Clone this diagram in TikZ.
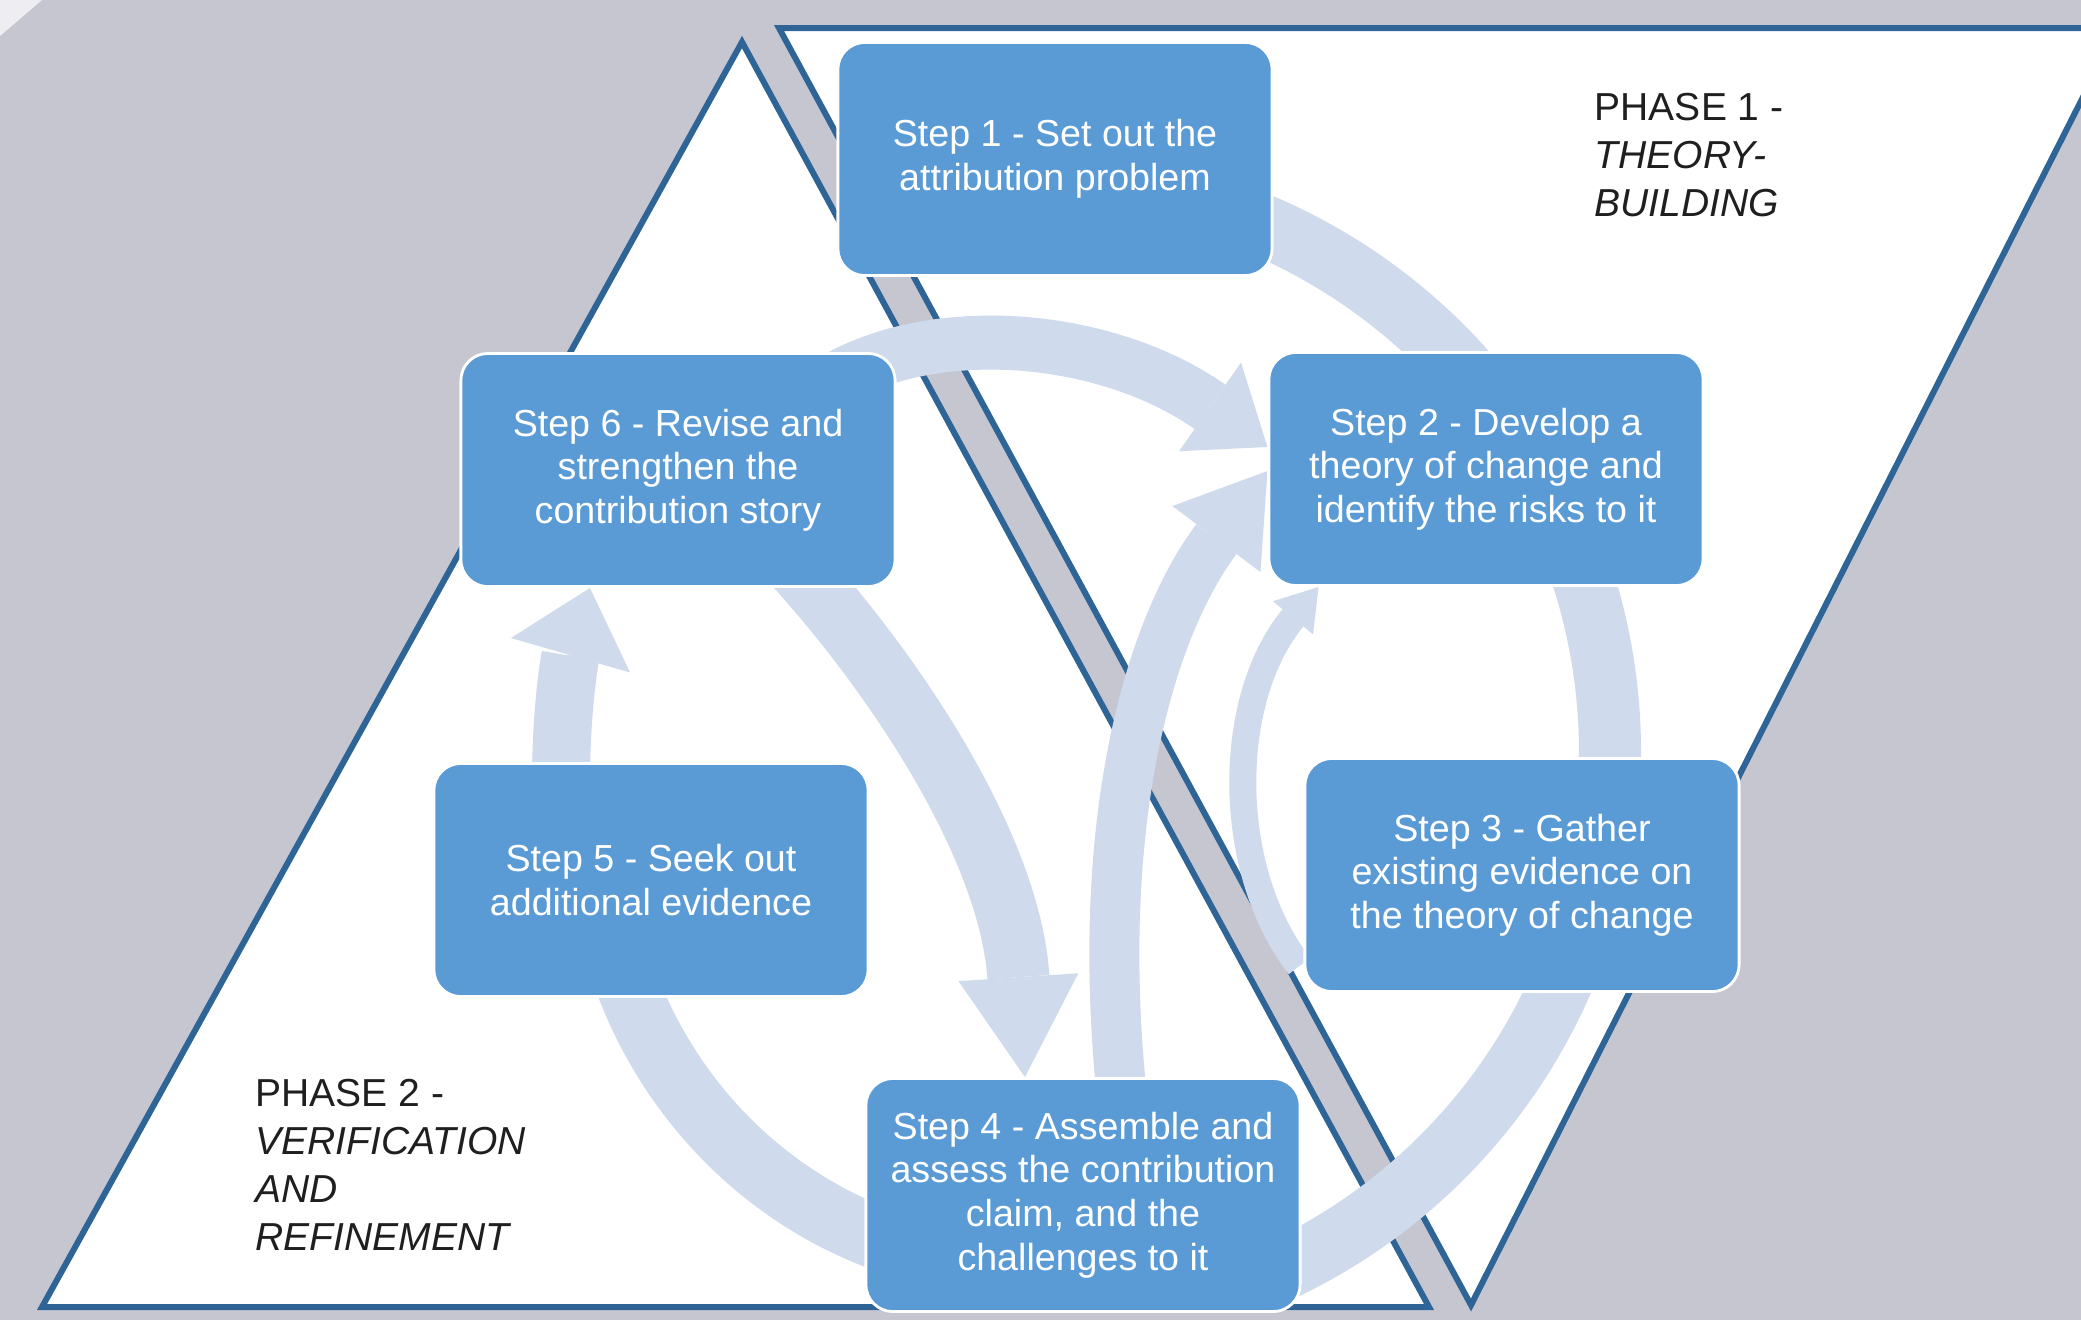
\documentclass[tikz,border=0pt]{standalone}
\usepackage{fontspec}
\setmainfont{Liberation Sans}
\usetikzlibrary{arrows.meta,backgrounds}
\definecolor{bggray}{HTML}{C6C6D0}
\definecolor{phaseblue}{HTML}{2E6496}
\definecolor{stepblue}{HTML}{5B9BD5}
\definecolor{bandblue}{HTML}{CFDBEC}
\definecolor{cornerwhite}{HTML}{EEEEF2}

\begin{document}
\begin{tikzpicture}[
  x=0.01cm, y=-0.01cm,
  stepbox/.style={draw=white, line width=0.8pt, fill=stepblue, rounded corners=0.27cm, minimum width=4.34cm, minimum height=2.33cm, align=center, text=white, font=\fontsize{10.7}{12.4}\selectfont},
  band/.style={draw=bandblue, line width=0.6cm},
  phase/.style={draw=phaseblue, fill=white, line width=0.06cm},
  phaselbl/.style={anchor=north west, inner sep=0pt, align=left, text=black!88, font=\fontsize{11.1}{13.6}\selectfont},
]
  \useasboundingbox (0,0) rectangle (2081,1320);

  % Steps
  \node[stepbox] (s1) at (1055,159) {Step 1 - Set out the\\attribution problem};
  \node[stepbox] (s2) at (1486,469) {Step 2 - Develop a\\theory of change and\\identify the risks to it};
  \node[stepbox] (s3) at (1522,875) {Step 3 - Gather\\existing evidence on\\the theory of change};
  \node[stepbox] (s4) at (1083,1195) {Step 4 - Assemble and\\assess the contribution\\claim, and the\\challenges to it};
  \node[stepbox] (s5) at (651,880) {Step 5 - Seek out\\additional evidence};
  \node[stepbox] (s6) at (678,470) {Step 6 - Revise and\\strengthen the\\contribution story};

  % Phase labels
  \node[phaselbl] (ph1) at (1594,93) {PHASE 1 -\\\textit{THEORY-}\\\textit{BUILDING}};
  \node[phaselbl] (ph2) at (255,1079) {PHASE 2 -\\\textit{VERIFICATION}\\\textit{AND}\\\textit{REFINEMENT}};

  \begin{scope}[on background layer]
    \clip (0,0) rectangle (2081,1320);
    \fill[bggray] (0,0) rectangle (2081,1320);
    \fill[cornerwhite] (0,0) -- (42,0) -- (0,36) -- cycle;

    % Phase areas
    \draw[phase] (779,28) -- (2118,28) -- (1471,1305) -- cycle;
    \draw[phase] (742,42) -- (1429,1307) -- (42,1307) -- cycle;

    % Right cycle: 1 -> 2 -> 3 -> 4
    \coordinate (ring) at (1037,752);
    \draw[band, line width=0.62cm] (ring) ++(-75:573) arc[start angle=-75, end angle=-38, radius=573];
    \draw[band, line width=0.62cm] (ring) ++(-22:573) arc[start angle=-22, end angle=6, radius=573];
    \draw[band, line width=0.62cm] (ring) ++(20:573) arc[start angle=20, end angle=68, radius=573];

    % Back to step 2
    \draw[band, line width=0.54cm, -{Triangle[width=1.08cm, length=0.7cm, line width=0pt]}]
      ([shift={(-0.75cm,-0.36cm)}]s6.north east) .. controls (920,320) and (1100,330) .. ([yshift=0.22cm]s2.west);
    \draw[band, line width=0.5cm, -{Triangle[width=1.1cm, length=0.85cm, line width=0pt]}]
      ([shift={(0.38cm,-0.11cm)}]s4.north) .. controls (1095,820) and (1149,629) .. ([yshift=-0.02cm]s2.west);
    \draw[band, line width=0.27cm, -{Triangle[width=0.52cm, length=0.4cm, line width=0pt]}]
      ([shift={(-0.04cm,0.27cm)}]s3.south west) .. controls (1225,870) and (1225,700) .. ([xshift=0.51cm]s2.south west);

    % Left cycle: 4 -> 5 -> 6 -> 4
    \draw[band, line width=0.63cm]
      ([shift={(0.33cm,-0.5cm)}]s4.west) .. controls (760,1200) and (660,1090) .. ([shift={(-0.32cm,0.37cm)}]s5.south);
    \draw[band, line width=0.58cm, -{Triangle[width=1.24cm, length=0.7cm, line width=0pt]}]
      ([shift={(-0.9cm,-0.37cm)}]s5.north) .. controls (560,700) and (572,650) .. ([xshift=-0.88cm]s6.south);
    \draw[band, line width=0.62cm, -{Triangle[width=1.2cm, length=1cm, line width=0pt]}]
      ([shift={(-1.05cm,0.27cm)}]s6.south east) .. controls (900,680) and (1010,850) .. ([xshift=-0.58cm]s4.north);
  \end{scope}
\end{tikzpicture}
\end{document}
